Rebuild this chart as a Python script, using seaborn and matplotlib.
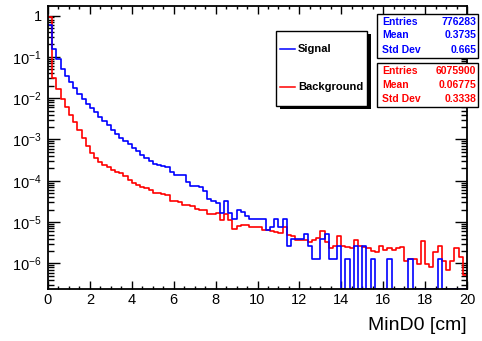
import numpy as np
import pandas as pd
import seaborn as sns
import matplotlib.pyplot as plt
from matplotlib.patches import Rectangle
from matplotlib.lines import Line2D
from matplotlib.ticker import MultipleLocator, LogLocator, FuncFormatter, NullFormatter

# 100 bins of 0.2 cm between 0 and 20 cm, contents normalised to unit sum
bin_edges = [round(0.2 * k, 1) for k in range(101)]

signal = [
    0.60, 0.155, 0.091, 0.052, 0.035, 0.024, 0.018, 0.0126, 0.0098, 0.0074,
    0.0059, 0.0045, 0.0035, 0.0028, 0.0022, 0.0017, 0.00138, 0.0011, 9.1e-4, 7.8e-4,
    6.3e-4, 5.2e-4, 4.3e-4, 3.5e-4, 3.0e-4, 2.6e-4, 2.45e-4, 2.3e-4, 2.1e-4, 1.6e-4,
    1.4e-4, 1.4e-4, 1.4e-4, 9.3e-5, 7.6e-5, 7.6e-5, 6.9e-5, 5.8e-5, 3.6e-5, 3.3e-5,
    2.9e-5, 1.7e-5, 3.2e-5, 1.7e-5, 1.16e-5, 2.0e-5, 1.8e-5, 1.4e-5, 1.16e-5, 1.16e-5,
    1.16e-5, 1.16e-5, 6.4e-6, 7.7e-6, 1.2e-5, 7.7e-6, 1.2e-5, 2.6e-6, 3.9e-6, 3.9e-6,
    3.9e-6, 5.2e-6, 2.6e-6, 1.3e-6, 1.3e-6, 3.9e-6, 5.2e-6, 1.3e-6, 1.3e-6, 2.6e-6,
    0, 1.3e-6, 0, 2.6e-6, 0, 2.6e-6, 0, 1.3e-6, 0, 0,
    0, 1.3e-6, 0, 0, 0, 0, 1.3e-6, 0, 0, 0,
    0, 0, 0, 1.3e-6, 0, 0, 0, 0, 0, 0,
]

background = [
    0.93, 0.031, 0.0166, 0.0098, 0.0062, 0.0040, 0.0026, 0.0017, 0.00107, 7.1e-4,
    4.7e-4, 3.5e-4, 2.9e-4, 2.4e-4, 2.1e-4, 1.8e-4, 1.6e-4, 1.5e-4, 1.3e-4, 1.07e-4,
    8.9e-5, 7.9e-5, 6.9e-5, 6.6e-5, 6.0e-5, 5.2e-5, 5.1e-5, 4.9e-5, 4.4e-5, 3.3e-5,
    3.3e-5, 3.0e-5, 2.6e-5, 2.6e-5, 2.5e-5, 2.1e-5, 2.0e-5, 2.0e-5, 1.6e-5, 1.6e-5,
    1.7e-5, 1.15e-5, 1.6e-5, 1.1e-5, 6.9e-6, 7.9e-6, 8.5e-6, 8.5e-6, 7.6e-6, 7.6e-6,
    7.6e-6, 6.3e-6, 6.6e-6, 6.0e-6, 5.8e-6, 5.5e-6, 7.6e-6, 4.8e-6, 4.5e-6, 3.6e-6,
    3.6e-6, 3.6e-6, 3.3e-6, 3.7e-6, 4.2e-6, 6.0e-6, 3.3e-6, 2.4e-6, 2.7e-6, 4.5e-6,
    2.7e-6, 2.5e-6, 2.4e-6, 3.7e-6, 2.6e-6, 2.5e-6, 2.4e-6, 2.0e-6, 1.9e-6, 2.6e-6,
    2.1e-6, 2.3e-6, 2.1e-6, 2.4e-6, 2.5e-6, 1.17e-6, 1.26e-6, 1.29e-6, 9.8e-7, 3.4e-6,
    9.8e-7, 8.1e-7, 1.9e-6, 2.6e-6, 1.12e-6, 6.8e-7, 1.12e-6, 2.4e-6, 1.4e-6, 5.1e-7,
]

sig_stats = [("Entries", "776283"), ("Mean", "0.3735"), ("Std Dev", "0.665")]
bkg_stats = [("Entries", "6075900"), ("Mean", "0.06775"), ("Std Dev", "0.3338")]

BLUE = "#0000ff"
RED = "#ff0000"
ymin, ymax = 2.4e-7, 1.7

plt.rcParams["font.family"] = ["Liberation Sans", "DejaVu Sans"]
plt.rcParams["mathtext.fontset"] = "custom"
plt.rcParams["mathtext.rm"] = "Liberation Sans"
plt.rcParams["mathtext.it"] = "Liberation Sans"
plt.rcParams["mathtext.default"] = "regular"

edges = np.array(bin_edges)
centers = (edges[:-1] + edges[1:]) / 2
# empty bins are drawn on the lower frame, as ROOT does
df = pd.DataFrame({
    "x": np.concatenate([centers, centers]),
    "w": np.concatenate([np.where(np.array(signal) > 0, signal, ymin),
                         np.where(np.array(background) > 0, background, ymin)]),
    "sample": ["Signal"] * len(centers) + ["Background"] * len(centers),
})

W, H = 482, 341
fig = plt.figure(figsize=(W / 100, H / 100), dpi=100)
ax = fig.add_axes([48 / W, 1 - 289 / H, 419 / W, 283 / H])

sns.histplot(data=df, x="x", weights="w", hue="sample", bins=bin_edges,
             element="step", fill=False, palette={"Signal": BLUE, "Background": RED},
             linewidth=1.2, legend=False, ax=ax)

ax.set_yscale("log")
ax.set_xlim(0, 20)
ax.set_ylim(ymin, ymax)
ax.set_ylabel(None)
ax.set_xlabel("MinD0 [cm]", fontsize=14, loc="right")
ax.xaxis.set_label_coords(1.0, -0.1)

ax.xaxis.set_major_locator(MultipleLocator(2))
ax.xaxis.set_minor_locator(MultipleLocator(0.5))
ax.yaxis.set_major_locator(LogLocator(base=10, numticks=20))
ax.yaxis.set_minor_locator(LogLocator(base=10, subs=np.arange(2, 10), numticks=20))
ax.yaxis.set_major_formatter(FuncFormatter(
    lambda v, p: "1" if abs(v - 1) < 1e-9 else r"10$^{%d}$" % round(np.log10(v))))
ax.yaxis.set_minor_formatter(NullFormatter())

ax.tick_params(which="both", direction="in", top=True, right=True, labelsize=10.5, width=1)
ax.tick_params(axis="x", which="major", length=5.5, pad=3)
ax.tick_params(axis="x", which="minor", length=2.5)
ax.tick_params(axis="y", which="major", length=8.5, pad=4.5)
ax.tick_params(axis="y", which="minor", length=4.3)
for s in ax.spines.values():
    s.set_linewidth(1.3)


def fx(px):
    return px / W


def fy(py):
    return 1 - py / H


# legend box with ROOT-style shadow
fig.add_artist(Rectangle((fx(280), fy(109)), fx(367) - fx(276), fy(31) - fy(106),
                         transform=fig.transFigure, facecolor="black", edgecolor="none"))
fig.add_artist(Rectangle((fx(276), fy(106)), fx(367) - fx(276), fy(31) - fy(106),
                         transform=fig.transFigure, facecolor="white", edgecolor="black", lw=1))
for label, col, py in [("Signal", BLUE, 48.5), ("Background", RED, 86.5)]:
    fig.add_artist(Line2D([fx(280), fx(295)], [fy(py), fy(py)], color=col, lw=1.1,
                          transform=fig.transFigure))
    fig.text(fx(298), fy(py), label, ha="left", va="center", fontsize=8,
             fontweight="bold", color="black")

# statistics boxes
for stats, col, top, rows in [(sig_stats, BLUE, 14, [22, 35.5, 50]),
                              (bkg_stats, RED, 63, [71, 85, 99])]:
    fig.add_artist(Rectangle((fx(377), fy(top + 44)), fx(478) - fx(377), fy(top) - fy(top + 44),
                             transform=fig.transFigure, facecolor="white", edgecolor="black", lw=1))
    for (name, val), py in zip(stats, rows):
        fig.text(fx(382.5), fy(py), name, ha="left", va="center", fontsize=7.5,
                 fontweight="bold", color=col)
        fig.text(fx(476.5), fy(py), val, ha="right", va="center", fontsize=7.5,
                 fontweight="bold", color=col)

fig.savefig("out.png", dpi=100)
